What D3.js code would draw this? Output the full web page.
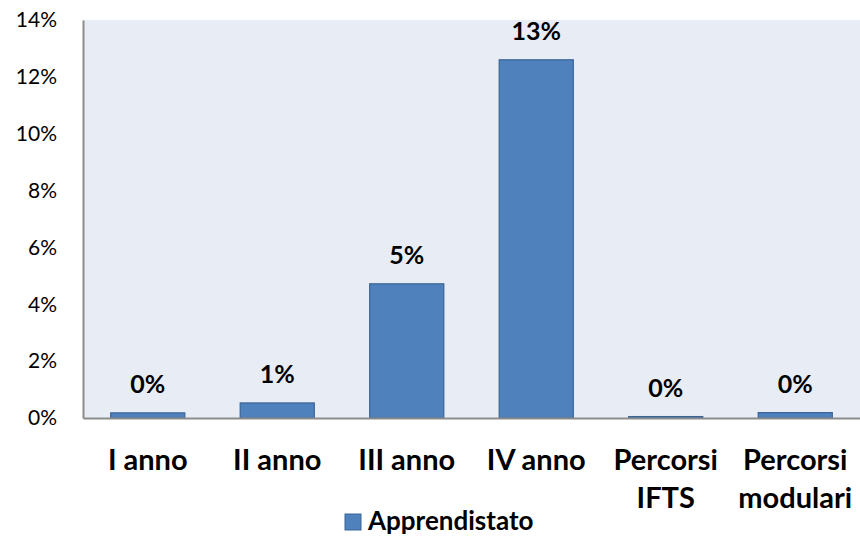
<!DOCTYPE html>
<html>
<head>
<meta charset="utf-8">
<script src="https://cdn.jsdelivr.net/npm/d3@7"></script>
<style>
  body { margin: 0; background: #fff; }
  svg { font-family: Lato, "Open Sans", sans-serif; }
</style>
</head>
<body>
<svg width="860" height="537"></svg>
<script>
// data
let categories = ["I anno", "II anno", "III anno", "IV anno", "Percorsi IFTS", "Percorsi modulari"]
let cat_lines = [["I anno"], ["II anno"], ["III anno"], ["IV anno"], ["Percorsi", "IFTS"], ["Percorsi", "modulari"]]
let values = [0.18, 0.53, 4.72, 12.6, 0.05, 0.19]
let bar_labels = ["0%", "1%", "5%", "13%", "0%", "0%"]
let y_ticks = [0, 2, 4, 6, 8, 10, 12, 14]
let series_name = "Apprendistato"

let margin = {left: 83, top: 20, right: 0, bottom: 119}
let W = 860, H = 537
let svg = d3.select("svg")

let x = d3.scaleBand()
    .domain(categories)
    .range([margin.left, W - margin.right])
    .paddingInner(0.42)
    .paddingOuter(0.21)

let y = d3.scaleLinear()
    .domain([0, 14])
    .range([H - margin.bottom, margin.top])

// plot background
svg.append("rect")
   .attr("x", margin.left).attr("y", margin.top)
   .attr("width", W - margin.right - margin.left)
   .attr("height", y(0) - margin.top)
   .attr("fill", "#E8ECF5")

// bars
svg.selectAll("rect.bar")
   .data(values)
   .join("rect")
   .attr("class", "bar")
   .attr("x", (d, i) => x(categories[i]) + 0.5)
   .attr("y", d => y(d))
   .attr("width", x.bandwidth() - 1)
   .attr("height", d => y(0) - y(d))
   .attr("fill", "#4F81BD")
   .attr("stroke", "#3A6496")
   .attr("stroke-width", 1.2)

// value labels
svg.selectAll("text.val")
   .data(values)
   .join("text")
   .attr("class", "val")
   .attr("x", (d, i) => x(categories[i]) + x.bandwidth() / 2)
   .attr("y", d => y(d) - 20)
   .attr("text-anchor", "middle")
   .attr("font-size", 25)
   .attr("font-weight", "bold")
   .attr("fill", "#000")
   .text((d, i) => bar_labels[i])

// y axis
let yAxis = svg.append("g")
   .attr("transform", `translate(${margin.left},0)`)
   .call(d3.axisLeft(y).tickValues(y_ticks).tickSize(0).tickPadding(26).tickFormat(d => d + "%"))
yAxis.select(".domain").attr("stroke", "#8C8C8C").attr("stroke-width", 2)
yAxis.selectAll("text").attr("font-size", 21).attr("fill", "#000").attr("font-family", "Lato, sans-serif")

// x axis
let xAxis = svg.append("g")
   .attr("transform", `translate(0,${y(0)})`)
   .call(d3.axisBottom(x).tickSize(0).tickFormat(""))
xAxis.select(".domain").attr("stroke", "#8C8C8C").attr("stroke-width", 2)

xAxis.selectAll(".tick").each(function(d, i) {
    let t = d3.select(this).select("text")
        .attr("y", 52).attr("dy", null)
        .attr("font-size", 29).attr("font-weight", "bold")
        .attr("fill", "#000").attr("font-family", "Lato, sans-serif")
    cat_lines[i].forEach((line, j) => {
        t.append("tspan").attr("x", 0).attr("y", 52 + j * 38).text(line)
    })
})

// legend
let leg = svg.append("g").attr("transform", "translate(345,514)")
leg.append("rect")
   .attr("width", 16).attr("height", 16)
   .attr("fill", "#4F81BD").attr("stroke", "#3A6496")
leg.append("text")
   .attr("x", 23).attr("y", 16)
   .attr("font-size", 26).attr("font-weight", "bold")
   .text(series_name)
</script>
</body>
</html>
